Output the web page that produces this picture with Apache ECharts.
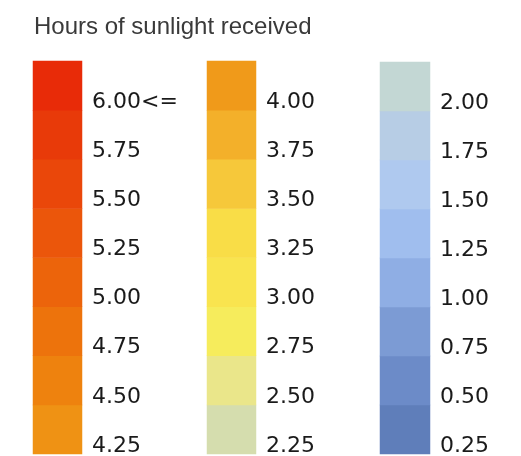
<!DOCTYPE html>
<html>
<head>
<meta charset="utf-8">
<style>
  html, body { margin: 0; padding: 0; background: #fff; }
  #chart { width: 521px; height: 456px; }
</style>
<script src="https://cdn.jsdelivr.net/npm/echarts@6/dist/echarts.min.js"></script>
</head>
<body>
<div id="chart"></div>
<script>
// legend bins, listed bottom to top in each column
const highLabels = ['4.25', '4.50', '4.75', '5.00', '5.25', '5.50', '5.75', '6.00<=']
const highValues = [4.25, 4.5, 4.75, 5.0, 5.25, 5.5, 5.75, 6.0]
const highColors = ['#EF9214', '#EE820E', '#ED730C', '#EC640B', '#EB560B', '#EA470A', '#E83A09', '#E82B08']

const midLabels = ['2.25', '2.50', '2.75', '3.00', '3.25', '3.50', '3.75', '4.00']
const midValues = [2.25, 2.5, 2.75, 3.0, 3.25, 3.5, 3.75, 4.0]
const midColors = ['#D5DDAE', '#EAE68A', '#F6EC5C', '#F9E44F', '#F9DD47', '#F6C83A', '#F3B02A', '#F09A1A']

const lowLabels = ['0.25', '0.50', '0.75', '1.00', '1.25', '1.50', '1.75', '2.00']
const lowValues = [0.25, 0.5, 0.75, 1.0, 1.25, 1.5, 1.75, 2.0]
const lowColors = ['#5F7EBA', '#6C8BC8', '#7C9BD4', '#8FAEE4', '#A0BEEE', '#AFC9EF', '#B7CDE5', '#C3D7D4']

const columns = [
  { labels: highLabels, values: highValues, colors: highColors, left: 33, top: 61, width: 49, height: 393 },
  { labels: midLabels, values: midValues, colors: midColors, left: 207, top: 61, width: 49, height: 393 },
  { labels: lowLabels, values: lowValues, colors: lowColors, left: 380, top: 62, width: 50, height: 392 }
]

const chart = echarts.init(document.getElementById('chart'))

const grids = []
const xAxes = []
const yAxes = []
const series = []

columns.forEach((col, k) => {
  grids.push({
    left: col.left,
    top: col.top,
    width: col.width,
    height: col.height,
    containLabel: false,
    outerBoundsMode: 'none'
  })
  xAxes.push({
    gridIndex: k,
    type: 'category',
    data: [''],
    show: false
  })
  yAxes.push({
    gridIndex: k,
    type: 'category',
    position: 'right',
    data: col.labels,
    axisLine: { show: false },
    axisTick: { show: false },
    splitLine: { show: false },
    axisLabel: {
      margin: 10,
      color: '#1a1a1a',
      fontSize: 22,
      fontFamily: 'DejaVu Sans',
      verticalAlign: 'top',
      lineHeight: 33
    }
  })
  series.push({
    type: 'heatmap',
    xAxisIndex: k,
    yAxisIndex: k,
    data: col.values.map((v, i) => ({
      value: [0, i, v],
      itemStyle: { color: col.colors[i] }
    })),
    emphasis: { disabled: true }
  })
})

chart.setOption({
  animation: false,
  title: {
    text: 'Hours of sunlight received',
    left: 34,
    top: 15,
    padding: 0,
    textStyle: {
      fontFamily: 'Liberation Sans',
      fontWeight: 'normal',
      fontSize: 24,
      color: '#3a3a3a'
    }
  },
  grid: grids,
  xAxis: xAxes,
  yAxis: yAxes,
  series: series
})
</script>
</body>
</html>
